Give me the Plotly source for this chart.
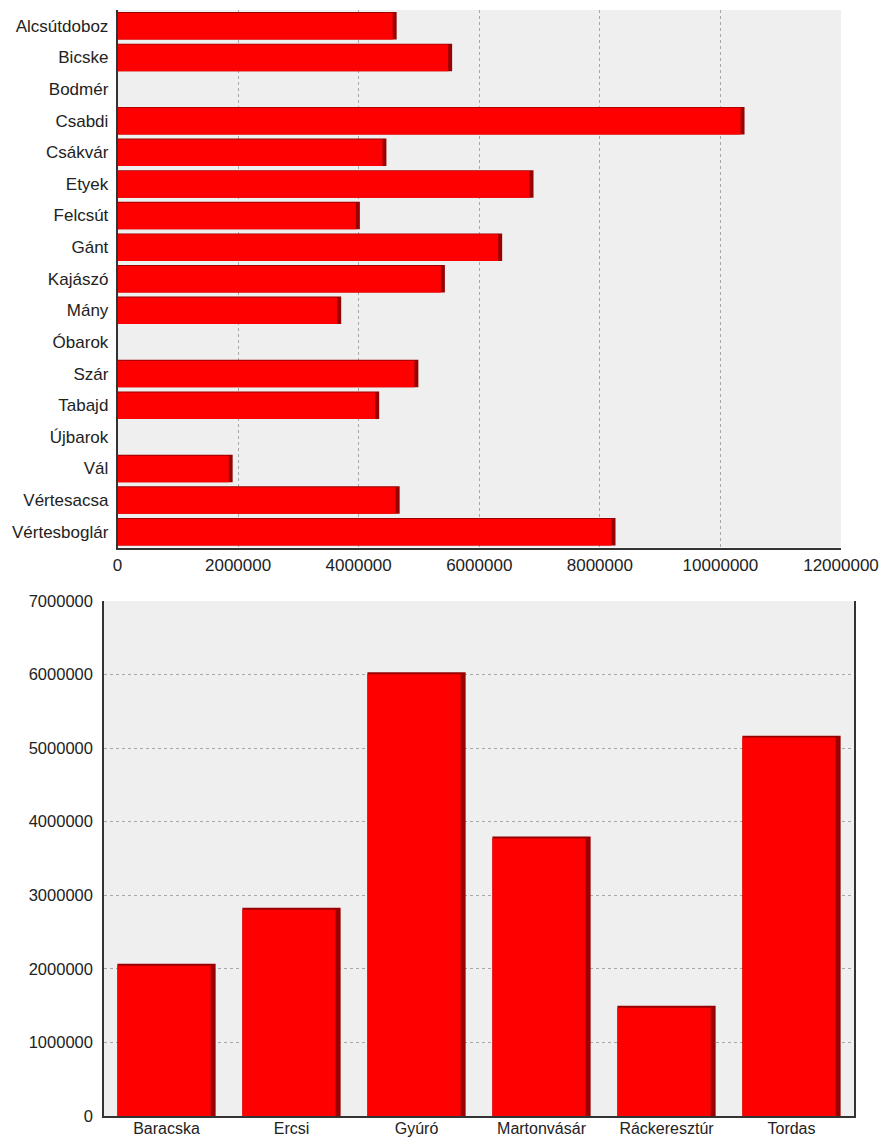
import plotly.graph_objects as go

# ---- data: top chart (horizontal bars) ----
top_categories = ["Alcsútdoboz", "Bicske", "Bodmér", "Csabdi", "Csákvár", "Etyek",
                  "Felcsút", "Gánt", "Kajászó", "Mány", "Óbarok", "Szár", "Tabajd",
                  "Újbarok", "Vál", "Vértesacsa", "Vértesboglár"]
top_values = [4630000, 5550000, 0, 10400000, 4460000, 6900000,
              4020000, 6380000, 5430000, 3710000, 0, 4990000, 4340000,
              0, 1910000, 4680000, 8260000]
top_ticks = [0, 2000000, 4000000, 6000000, 8000000, 10000000, 12000000]

# ---- data: bottom chart (vertical bars) ----
bottom_categories = ["Baracska", "Ercsi", "Gyúró", "Martonvásár", "Ráckeresztúr", "Tordas"]
bottom_values = [2070000, 2830000, 6030000, 3800000, 1500000, 5170000]
bottom_ticks = [0, 1000000, 2000000, 3000000, 4000000, 5000000, 6000000, 7000000]

RED = "#FF0000"
DARK = "#990000"
FONT = "Liberation Sans, Arial, sans-serif"
TXT = "#222222"

# depth of the pseudo-3D edge in data units
top_depth = 66000
bottom_depth = 27000

fig = go.Figure()

# top chart: dark side + red face
fig.add_trace(go.Bar(
    orientation="h", y=top_categories, x=top_values,
    marker=dict(color=DARK, line=dict(width=0)),
    width=0.87, offset=-0.435, xaxis="x", yaxis="y", hoverinfo="skip"))
fig.add_trace(go.Bar(
    orientation="h", y=top_categories,
    x=[max(v - top_depth, 0) if v > 0 else 0 for v in top_values],
    marker=dict(color=RED, line=dict(width=0)),
    width=0.84, offset=-0.405, xaxis="x", yaxis="y", hoverinfo="skip"))

# bottom chart: dark side + red face
fig.add_trace(go.Bar(
    x=bottom_categories, y=bottom_values,
    marker=dict(color=DARK, line=dict(width=0)),
    width=0.786, offset=-0.393, xaxis="x2", yaxis="y2", hoverinfo="skip"))
fig.add_trace(go.Bar(
    x=bottom_categories, y=[v - bottom_depth for v in bottom_values],
    marker=dict(color=RED, line=dict(width=0)),
    width=0.746, offset=-0.393, xaxis="x2", yaxis="y2", hoverinfo="skip"))

grid = dict(showgrid=True, gridcolor="#A8A8A8", griddash="dot", gridwidth=1, zeroline=False)

fig.update_layout(
    width=880, height=1137,
    margin=dict(l=0, r=0, t=0, b=0, autoexpand=False),
    paper_bgcolor="white", plot_bgcolor="#EFEFEF",
    barmode="overlay", showlegend=False,
    font=dict(family=FONT, size=17, color=TXT),
    xaxis=dict(domain=[117.5 / 880, 841 / 880], anchor="y", automargin=False,
               range=[0, 12000000], tickvals=top_ticks, tickformat="d",
               showline=True, linecolor="#333333", linewidth=1.5,
               ticks="outside", ticklen=1, tickcolor="rgba(0,0,0,0)",
               tickfont=dict(size=17, color=TXT), **grid),
    yaxis=dict(domain=[1 - 547.5 / 1137, 1 - 10 / 1137], anchor="x", automargin=False,
               type="category", categoryorder="array", categoryarray=top_categories,
               range=[len(top_categories) - 0.5, -0.5],
               showline=True, linecolor="#333333", linewidth=1.5,
               ticks="outside", ticklen=4, tickcolor="rgba(0,0,0,0)",
               showgrid=False, zeroline=False,
               tickfont=dict(size=17, color=TXT)),
    xaxis2=dict(domain=[104 / 880, 854 / 880], anchor="y2", automargin=False,
                type="category", categoryorder="array", categoryarray=bottom_categories,
                range=[-0.5, len(bottom_categories) - 0.5],
                showline=True, linecolor="#333333", linewidth=1.5,
                ticks="", ticklabelstandoff=-3, showgrid=False, zeroline=False,
                tickfont=dict(size=16, color=TXT)),
    yaxis2=dict(domain=[1 - 1116 / 1137, 1 - 601 / 1137], anchor="x2", automargin=False,
                range=[0, 7000000], tickvals=bottom_ticks, tickformat="d",
                showline=True, mirror=True, linecolor="#333333", linewidth=1.5,
                ticks="outside", ticklen=6, tickcolor="rgba(0,0,0,0)",
                tickfont=dict(size=16.5, color=TXT), **grid),
)

fig.write_html("out.html", config={"displayModeBar": False},
               post_script="document.body.style.margin='0';")
